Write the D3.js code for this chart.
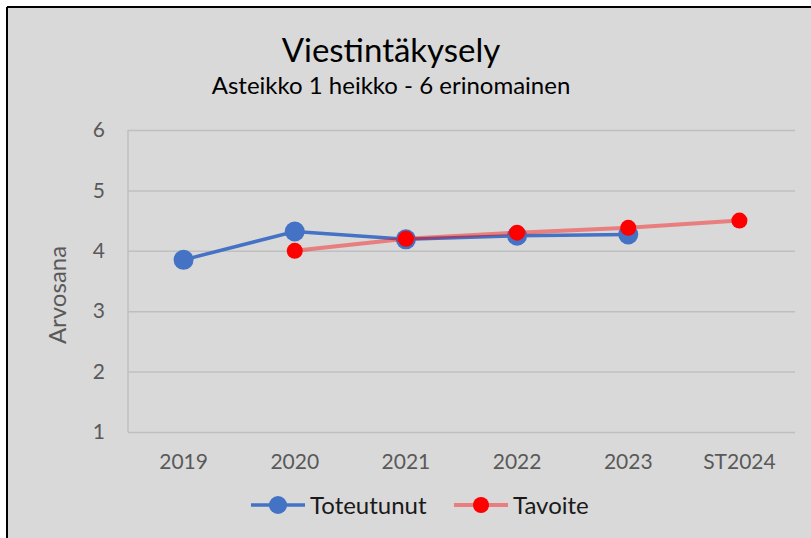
<!DOCTYPE html>
<html lang="fi">
<head>
    <meta charset="UTF-8"/>
    <title>Viestintäkysely</title>
    <script src="https://d3js.org/d3.v7.min.js"></script>
    <style>
        html, body {
            margin: 0;
            padding: 0;
            background: white;
        }
        svg text {
            font-family: Lato, "Open Sans", sans-serif;
        }
    </style>
</head>
<body>
    <div class="chart-container"></div>
    <script>
        var w = 811;
        var h = 538;

        // data
        var years = ["2019", "2020", "2021", "2022", "2023", "ST2024"];
        var toteutunut = [3.85, 4.32, 4.19, 4.25, 4.27, null];
        var tavoite = [null, 4.0, 4.2, 4.3, 4.38, 4.5];
        var yTicks = [1, 2, 3, 4, 5, 6];

        var margin = {left: 128, right: 16, top: 130, bottom: 106};

        var svg = d3.select(".chart-container")
                    .append("svg")
                    .attr("width", w)
                    .attr("height", h);

        // chart background with the black frame on top and left
        svg.append("rect")
            .attr("x", 8).attr("y", 8)
            .attr("width", w - 8).attr("height", h - 8)
            .attr("fill", "#d9d9d9");
        svg.append("line")
            .attr("x1", 7).attr("y1", 7).attr("x2", w).attr("y2", 7)
            .attr("stroke", "black").attr("stroke-width", 2);
        svg.append("line")
            .attr("x1", 7).attr("y1", 7).attr("x2", 7).attr("y2", h)
            .attr("stroke", "black").attr("stroke-width", 2);

        var x = d3.scaleBand()
            .domain(years)
            .range([margin.left, w - margin.right]);

        var y = d3.scaleLinear()
            .domain([1, 6])
            .range([h - margin.bottom, margin.top]);

        // gridlines
        svg.append("g")
            .attr("transform", "translate(" + margin.left + ",0)")
            .call(d3.axisLeft(y).tickValues(yTicks)
                .tickSize(-(w - margin.left - margin.right))
                .tickFormat(""))
            .call(function(g) {
                g.select(".domain").remove();
                g.selectAll("line").attr("stroke", "#bfbfbf").attr("stroke-width", 1.5);
            });

        // y axis line
        svg.append("line")
            .attr("x1", margin.left).attr("x2", margin.left)
            .attr("y1", y(6)).attr("y2", y(1))
            .attr("stroke", "#bfbfbf").attr("stroke-width", 1.5);

        // y tick labels
        svg.append("g")
            .attr("transform", "translate(" + (margin.left - 23) + ",0)")
            .call(d3.axisLeft(y).tickValues(yTicks).tickFormat(d3.format("d"))
                .tickSize(0).tickPadding(0))
            .call(function(g) {
                g.select(".domain").remove();
                g.selectAll("text")
                    .attr("fill", "#595959")
                    .attr("font-size", "21px")
                    .style("font-family", "Lato, sans-serif");
            });

        // x tick labels
        svg.append("g")
            .attr("transform", "translate(0," + (y(1) + 22) + ")")
            .call(d3.axisBottom(x).tickSize(0).tickPadding(0))
            .call(function(g) {
                g.select(".domain").remove();
                g.selectAll("text")
                    .attr("fill", "#595959")
                    .attr("font-size", "21px")
                    .style("font-family", "Lato, sans-serif");
            });

        var cx = function(i) { return x(years[i]) + x.bandwidth() / 2; };

        var line = d3.line()
            .defined(function(d) { return d !== null; })
            .x(function(d, i) { return cx(i); })
            .y(function(d) { return y(d); });

        // Toteutunut
        svg.append("path")
            .datum(toteutunut)
            .attr("d", line)
            .attr("fill", "none")
            .attr("stroke", "#4472c4")
            .attr("stroke-width", 3.5);

        svg.selectAll("circle.tot")
            .data(toteutunut)
            .enter()
            .filter(function(d) { return d !== null; })
            .append("circle")
            .attr("class", "tot")
            .attr("cx", function(d) { return cx(toteutunut.indexOf(d)); })
            .attr("cy", function(d) { return y(d); })
            .attr("r", 10)
            .attr("fill", "#4472c4");

        // Tavoite
        svg.append("path")
            .datum(tavoite)
            .attr("d", line)
            .attr("fill", "none")
            .attr("stroke", "#ff0000")
            .attr("stroke-opacity", 0.42)
            .attr("stroke-width", 4);

        svg.selectAll("circle.tav")
            .data(tavoite)
            .enter()
            .filter(function(d) { return d !== null; })
            .append("circle")
            .attr("class", "tav")
            .attr("cx", function(d) { return cx(tavoite.indexOf(d)); })
            .attr("cy", function(d) { return y(d); })
            .attr("r", 8)
            .attr("fill", "#ff0000");

        // title
        svg.append("text")
            .attr("x", 391).attr("y", 62)
            .attr("text-anchor", "middle")
            .attr("font-size", "33px")
            .attr("fill", "#000")
            .text("Viestintäkysely");
        svg.append("text")
            .attr("x", 391).attr("y", 94)
            .attr("text-anchor", "middle")
            .attr("font-size", "24px")
            .attr("fill", "#000")
            .text("Asteikko 1 heikko - 6 erinomainen");

        // axis title
        svg.append("text")
            .attr("transform", "translate(66," + ((y(1) + y(6)) / 2 + 14) + ") rotate(-90)")
            .attr("text-anchor", "middle")
            .attr("font-size", "24px")
            .attr("fill", "#595959")
            .text("Arvosana");

        // legend
        var legend = [
            {name: "Toteutunut", color: "#4472c4", opacity: 1, r: 9, x: 251},
            {name: "Tavoite", color: "#ff0000", opacity: 0.42, r: 8, x: 454}
        ];
        var lg = svg.selectAll("g.legend")
            .data(legend)
            .enter()
            .append("g")
            .attr("class", "legend")
            .attr("transform", function(d) { return "translate(" + d.x + ",505)"; });
        lg.append("line")
            .attr("x1", 0).attr("x2", 54)
            .attr("stroke", function(d) { return d.color; })
            .attr("stroke-opacity", function(d) { return d.opacity; })
            .attr("stroke-width", function(d, i) { return i === 0 ? 3.5 : 4; });
        lg.append("circle")
            .attr("cx", 27)
            .attr("r", function(d) { return d.r; })
            .attr("fill", function(d) { return d.color; });
        lg.append("text")
            .attr("x", 59)
            .attr("y", 9)
            .attr("font-size", "24px")
            .attr("fill", "#1a1a1a")
            .text(function(d) { return d.name; });
    </script>
</body>
</html>
